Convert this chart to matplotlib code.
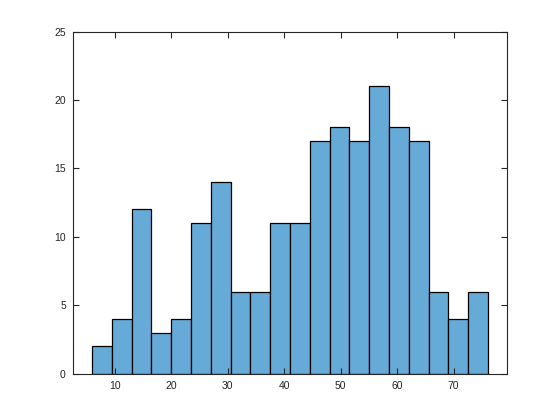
import numpy as np
import matplotlib
matplotlib.use("Agg")
import matplotlib.pyplot as plt

# bin edges and counts
bin_start = 5.98
bin_width = 3.505
counts = [2, 4, 12, 3, 4, 11, 14, 6, 6, 11, 11, 17, 18, 17, 21, 18, 17, 6, 4, 6]
xticks = [10, 20, 30, 40, 50, 60, 70]
yticks = [0, 5, 10, 15, 20, 25]

edges = bin_start + bin_width * np.arange(len(counts) + 1)

plt.rcParams['font.family'] = ['Liberation Sans', 'DejaVu Sans']

fig = plt.figure(figsize=(5.6, 4.2), dpi=100)
ax = fig.add_axes([0.13, 0.11, 0.775, 0.815])

ax.bar(edges[:-1], counts, width=bin_width, align='edge',
       color='#66aad7', edgecolor='black', linewidth=0.9)

ax.set_xlim(2.6, 79.4)
ax.set_ylim(0, 25)
ax.set_xticks(xticks)
ax.set_yticks(yticks)
ax.tick_params(direction='in', length=4, width=0.8, labelsize=7.5,
               top=True, right=True, color='#262626', labelcolor='#262626', pad=5)
for s in ax.spines.values():
    s.set_linewidth(0.8)
    s.set_color('#262626')

fig.savefig('out.png', dpi=100)
